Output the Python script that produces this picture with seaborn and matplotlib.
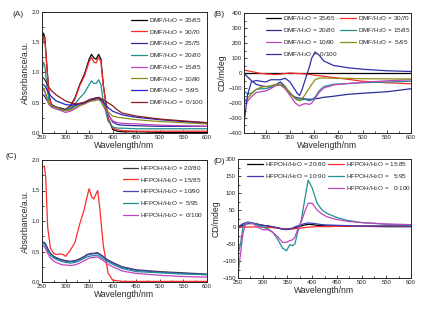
import numpy as np
import pandas as pd
import seaborn as sns
import matplotlib.pyplot as plt
from matplotlib.lines import Line2D
from matplotlib.ticker import AutoMinorLocator

sns.set_style("ticks")
plt.rcParams['font.family'] = ['Liberation Sans', 'DejaVu Sans']
plt.rcParams['mathtext.default'] = 'regular'
plt.rcParams['xtick.direction'] = 'in'
plt.rcParams['ytick.direction'] = 'in'

# %% Data

# (A) UV-vis, DMF/H2O
wl_a = [250, 253, 256, 260, 265, 270, 280, 290, 300, 310, 320, 330, 340, 350,
        355, 360, 365, 370, 375, 380, 390, 400, 410, 420, 450, 500, 550, 600]
labels_a = ['35/65', '30/70', '25/75', '20/80', '15/85', '10/90', ' 5/95', ' 0/100']
abs_a = [
    [1.40, 1.65, 1.58, 1.15, 0.62, 0.47, 0.43, 0.41, 0.39, 0.45, 0.58, 0.80, 0.97, 1.22,
     1.30, 1.24, 1.22, 1.30, 1.22, 0.80, 0.25, 0.06, 0.03, 0.02, 0.02, 0.01, 0.01, 0.01],
    [1.38, 1.60, 1.55, 1.12, 0.60, 0.46, 0.42, 0.40, 0.38, 0.44, 0.56, 0.78, 0.94, 1.18,
     1.25, 1.17, 1.16, 1.25, 1.18, 0.78, 0.25, 0.08, 0.05, 0.04, 0.03, 0.03, 0.03, 0.03],
    [0.62, 0.63, 0.60, 0.55, 0.48, 0.45, 0.42, 0.40, 0.38, 0.40, 0.45, 0.48, 0.50, 0.54,
     0.56, 0.57, 0.58, 0.58, 0.55, 0.50, 0.32, 0.18, 0.14, 0.13, 0.12, 0.11, 0.11, 0.11],
    [1.00, 1.17, 1.12, 0.80, 0.50, 0.43, 0.40, 0.38, 0.37, 0.42, 0.48, 0.58, 0.66, 0.80,
     0.86, 0.82, 0.82, 0.88, 0.80, 0.52, 0.20, 0.10, 0.08, 0.08, 0.07, 0.07, 0.07, 0.07],
    [0.72, 0.71, 0.68, 0.58, 0.47, 0.43, 0.40, 0.37, 0.34, 0.36, 0.40, 0.45, 0.48, 0.52,
     0.54, 0.55, 0.56, 0.57, 0.53, 0.45, 0.30, 0.20, 0.17, 0.16, 0.15, 0.13, 0.12, 0.11],
    [0.75, 0.74, 0.70, 0.60, 0.48, 0.45, 0.42, 0.39, 0.37, 0.38, 0.42, 0.46, 0.48, 0.52,
     0.53, 0.53, 0.54, 0.55, 0.52, 0.45, 0.35, 0.28, 0.26, 0.25, 0.22, 0.19, 0.17, 0.15],
    [0.80, 0.80, 0.78, 0.72, 0.65, 0.60, 0.53, 0.50, 0.47, 0.46, 0.47, 0.48, 0.50, 0.54,
     0.55, 0.56, 0.57, 0.58, 0.55, 0.52, 0.42, 0.36, 0.33, 0.30, 0.26, 0.22, 0.19, 0.17],
    [0.92, 0.91, 0.88, 0.82, 0.75, 0.70, 0.63, 0.58, 0.53, 0.50, 0.48, 0.49, 0.51, 0.55,
     0.56, 0.57, 0.58, 0.59, 0.57, 0.55, 0.50, 0.45, 0.38, 0.33, 0.28, 0.23, 0.20, 0.17],
]
colors_a = ['#000000', '#ff2a2a', '#2b2b9c', '#1f8f8f', '#c044c0', '#8c8c14', '#2424c8', '#8b1c1c']

# (B) CD, DMF/H2O
wl_b = [255, 262, 270, 280, 290, 300, 310, 320, 330, 340, 350, 360, 365, 370,
        375, 380, 385, 390, 395, 402, 410, 420, 440, 470, 500, 550, 600]
labels_b = ['35/65', '30/70', '20/80', '15/85', '10/90', ' 5/95', ' 0/100']
cd_b = [
    [0] * 27,
    [20, 15, 10, 3, -3, -6, -8, -10, -8, -3, 0, -2, -3, -4,
     -5, -6, -8, -10, -12, -15, -18, -22, -30, -42, -55, -65, -72],
    [0, -25, -50, -75, -85, -90, -95, -80, -60, -90, -140, -160, -165, -168,
     -170, -172, -174, -175, -175, -172, -168, -162, -155, -142, -135, -125, -105],
    [-120, -140, -135, -110, -105, -105, -95, -80, -75, -95, -130, -165, -175, -182,
     -180, -175, -180, -185, -180, -160, -120, -90, -75, -70, -65, -60, -55],
    [-170, -190, -160, -130, -125, -120, -105, -85, -80, -105, -150, -195, -210, -220,
     -210, -205, -205, -210, -200, -170, -130, -100, -80, -70, -62, -52, -45],
    [-200, -170, -140, -110, -95, -90, -85, -75, -78, -95, -135, -170, -180, -185,
     -170, -150, -125, -100, -75, -45, -35, -33, -35, -36, -38, -39, -40],
    [-340, -150, -60, -50, -55, -60, -45, -45, -45, -35, -60, -110, -135, -150,
     -110, -60, -10, 40, 100, 140, 120, 80, 50, 35, 25, 15, 10],
]
colors_b = ['#000000', '#ff2a2a', '#2b2b9c', '#1f8f8f', '#c044c0', '#8c8c14', '#3030a8']

# (C) UV-vis, HFPOH/H2O
wl_c = [250, 255, 258, 262, 268, 275, 280, 290, 295, 300, 310, 320, 330, 340, 345,
        350, 355, 360, 365, 368, 372, 380, 390, 400, 420, 450, 500, 550, 600]
labels_c = ['20/80', '15/85', '10/90', ' 5/95', ' 0/100']
abs_c = [
    [0.65, 0.65, 0.62, 0.55, 0.47, 0.42, 0.40, 0.37, 0.36, 0.35, 0.34, 0.35, 0.38, 0.42, 0.45,
     0.46, 0.47, 0.47, 0.48, 0.48, 0.46, 0.42, 0.36, 0.32, 0.25, 0.20, 0.17, 0.15, 0.13],
    [1.88, 1.90, 1.70, 0.90, 0.55, 0.47, 0.45, 0.46, 0.45, 0.42, 0.52, 0.65, 0.95, 1.20, 1.38,
     1.53, 1.40, 1.36, 1.45, 1.50, 1.25, 0.60, 0.15, 0.03, 0.01, 0.01, 0.01, 0.01, 0.01],
    [0.65, 0.64, 0.61, 0.54, 0.46, 0.41, 0.39, 0.36, 0.35, 0.34, 0.33, 0.34, 0.37, 0.41, 0.44,
     0.45, 0.46, 0.46, 0.47, 0.47, 0.45, 0.41, 0.35, 0.31, 0.24, 0.19, 0.16, 0.14, 0.12],
    [0.63, 0.62, 0.58, 0.51, 0.44, 0.39, 0.37, 0.34, 0.33, 0.32, 0.31, 0.32, 0.35, 0.39, 0.41,
     0.42, 0.43, 0.43, 0.44, 0.44, 0.42, 0.38, 0.33, 0.29, 0.22, 0.17, 0.15, 0.13, 0.12],
    [0.60, 0.58, 0.54, 0.47, 0.39, 0.34, 0.32, 0.29, 0.28, 0.28, 0.27, 0.28, 0.31, 0.35, 0.37,
     0.39, 0.40, 0.40, 0.41, 0.41, 0.39, 0.35, 0.29, 0.25, 0.18, 0.14, 0.11, 0.09, 0.08],
]
colors_c = ['#3a3a3a', '#ff2a2a', '#4646c0', '#1f8f8f', '#c044c0']

# (D) CD, HFPOH/H2O
wl_d = [250, 255, 260, 265, 270, 280, 290, 300, 310, 320, 330, 340, 348, 355, 360,
        365, 370, 378, 385, 392, 400, 410, 420, 430, 450, 470, 500, 550, 600]
labels_d = ['20:80', '15:85', '10:90', '  5:95', '  0:100']
cd_d = [
    [0, 2, 5, 8, 10, 10, 8, 5, 3, 0, -3, -6, -6, -5, -4,
     -2, 0, 3, 6, 8, 7, 5, 4, 3, 3, 2, 2, 1, 1],
    [0, 0, 0, 0, 0, 0, 0, 0, -1, -2, -3, -5, -6, -6, -6,
     -5, -4, -3, -2, 0, 0, 1, 1, 1, 2, 2, 2, 3, 3],
    [0, 5, 10, 12, 13, 12, 8, 5, 3, 1, -2, -6, -8, -6, -4,
     0, 3, 7, 10, 12, 11, 9, 7, 6, 5, 4, 3, 3, 3],
    [-80, -50, 0, 12, 15, 12, 5, 0, -5, -15, -35, -62, -70, -52, -55,
     -50, -20, 20, 80, 138, 115, 70, 50, 40, 28, 20, 13, 8, 5],
    [-140, -80, -20, 8, 12, 10, 0, -8, -8, -15, -28, -45, -45, -40, -38,
     -30, -10, 15, 45, 70, 70, 50, 38, 30, 22, 17, 13, 9, 7],
]
colors_d = ['#000000', '#ff2a2a', '#3a3ab8', '#1f8f8f', '#c044c0']


def long_form(wl, series, labels, prefix):
    frames = []
    for lab, vals in zip(labels, series):
        frames.append(pd.DataFrame({'wl': wl, 'y': vals, 'Sample': f'{prefix} = {lab}'}))
    return pd.concat(frames, ignore_index=True)


# %% Plot

W, H = 422, 310
fig = plt.figure(figsize=(W / 100, H / 100), dpi=100)


def px_axes(left, top, right, bottom):
    return fig.add_axes([left / W, 1 - bottom / H, (right - left) / W, (bottom - top) / H])


def panel(ax, wl, series, labels, colors, prefix, xlim, ylim, yticks, ylabel,
          ncol, bbox, order=None):
    data = long_form(wl, series, labels, prefix)
    names = [f'{prefix} = {lab}' for lab in labels]
    sns.lineplot(data=data, x='wl', y='y', hue='Sample', hue_order=names,
                 palette=dict(zip(names, colors)), sort=False, linewidth=0.9, ax=ax)
    ax.set_xlim(*xlim)
    ax.set_ylim(*ylim)
    ax.set_xticks([300, 350, 400, 450, 500, 550, 600] if xlim[0] > 250 else
                  [250, 300, 350, 400, 450, 500, 550, 600])
    ax.set_yticks(yticks)
    ax.xaxis.set_minor_locator(AutoMinorLocator(2))
    ax.yaxis.set_minor_locator(AutoMinorLocator(2))
    ax.tick_params(which='both', top=False, right=False, labelsize=4.3, pad=1.5,
                   width=0.6, length=2)
    ax.tick_params(which='minor', length=1.2)
    ax.set_xlabel('Wavelength/nm', fontsize=6.2, labelpad=1)
    ax.set_ylabel(ylabel, fontsize=6.2, labelpad=1)
    for s in ax.spines.values():
        s.set_linewidth(0.7)
    handles, labs = ax.get_legend_handles_labels()
    if order is not None:
        # legend rows read left to right, as in the original figure
        blank = Line2D([], [], linestyle='none')
        handles = [handles[i] if i >= 0 else blank for i in order]
        labs = [labs[i] if i >= 0 else '' for i in order]
    ax.legend(handles, labs, loc='upper right', bbox_to_anchor=bbox, ncol=ncol,
              frameon=False, fontsize=4.6, handlelength=2.4, handletextpad=0.3,
              labelspacing=0.45, columnspacing=0.4, borderaxespad=0.2)


ax_a = px_axes(42, 12, 207, 133)
panel(ax_a, wl_a, abs_a, labels_a, colors_a, 'DMF/H$_2$O', (250, 600), (0, 2.0),
      [0.0, 0.5, 1.0, 1.5, 2.0], 'Absorbance/a.u.', 1, (1.0, 1.0))

ax_b = px_axes(244, 13, 411, 133)
panel(ax_b, wl_b, cd_b, labels_b, colors_b, 'DMF/H$_2$O', (255, 600), (-400, 400),
      list(range(-400, 401, 100)), 'CD/mdeg', 2, (1.02, 1.02), order=[0, 2, 4, 6, 1, 3, 5])

ax_c = px_axes(42, 160, 207, 282)
panel(ax_c, wl_c, abs_c, labels_c, colors_c, 'HFPOH/H$_2$O', (250, 600), (0, 2.0),
      [0.0, 0.5, 1.0, 1.5, 2.0], 'Absorbance/a.u.', 1, (1.0, 1.0))

ax_d = px_axes(238, 159, 411, 278)
panel(ax_d, wl_d, cd_d, labels_d, colors_d, 'HFPOH/H$_2$O', (250, 600), (-150, 200),
      list(range(-150, 201, 50)), 'CD/mdeg', 2, (1.02, 1.02), order=[0, 2, -1, 1, 3, 4])

for lab, (x, y) in zip(['(A)', '(B)', '(C)', '(D)'],
                       [(18, 15), (219, 15), (11, 157), (219, 161)]):
    fig.text(x / W, 1 - y / H, lab, fontsize=6, ha='center', va='center')

plt.savefig('out.png', dpi=100)
